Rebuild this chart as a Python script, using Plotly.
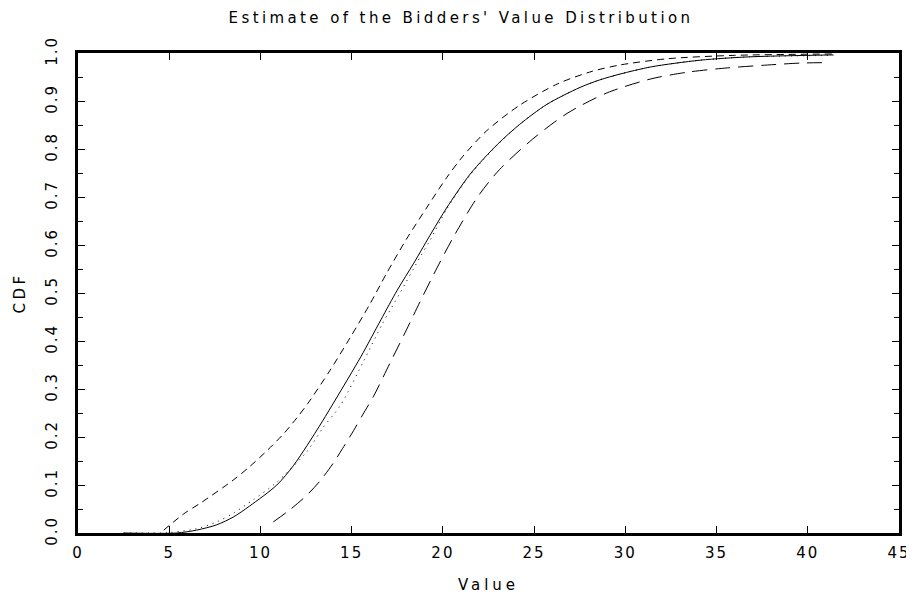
import plotly.graph_objects as go

# Estimated CDF (solid)
est_x = [2.5, 5.4, 6.5, 7.6, 8.5, 9.4, 10.9, 11.8, 12.55, 13.4, 14.1, 15.5, 16.6, 17.5, 18.4, 19.4,
         20.2, 21.5, 23.0, 24.2, 25.7, 27.5, 28.6, 29.7, 31.4, 34.1, 36.8, 41.4]
est_y = [0.0, 0.0, 0.006, 0.017, 0.033, 0.056, 0.1, 0.14, 0.182, 0.233, 0.277, 0.367, 0.444, 0.506, 0.562, 0.627,
         0.677, 0.748, 0.81, 0.851, 0.893, 0.928, 0.944, 0.956, 0.971, 0.985, 0.992, 0.996]

# Parametric / alternative fit (dotted)
fit_x = [2.5, 5.0, 6.5, 7.6, 8.5, 9.6, 10.9, 12.55, 13.4, 14.4, 15.6, 16.7, 17.65, 18.75, 19.3,
         20.2, 21.5, 23.0, 24.2, 25.7, 27.5, 28.6, 29.7, 31.4, 34.1, 36.8, 41.4]
fit_y = [0.0, 0.001, 0.009, 0.023, 0.041, 0.069, 0.106, 0.17, 0.218, 0.267, 0.354, 0.437, 0.5, 0.575, 0.61,
         0.674, 0.746, 0.809, 0.851, 0.893, 0.928, 0.944, 0.956, 0.971, 0.985, 0.992, 0.995]

# Upper band (short dashes)
up_x = [4.7, 5.8, 6.7, 8.5, 9.4, 10.4, 11.3, 12.0, 12.6, 13.8, 14.9, 16.0, 16.9, 18.0, 19.1, 20.2,
        21.1, 22.4, 24.2, 26.3, 28.2, 29.7, 32.3, 35.9, 41.4]
up_y = [0.006, 0.04, 0.062, 0.11, 0.138, 0.173, 0.208, 0.24, 0.27, 0.338, 0.406, 0.477, 0.54, 0.612, 0.677, 0.74,
        0.785, 0.838, 0.891, 0.936, 0.962, 0.975, 0.988, 0.995, 0.998]

# Lower band (long dashes)
lo_x = [10.7, 11.6, 12.55, 13.3, 14.0, 14.5, 15.1, 15.6, 16.2, 17.1, 18.0, 18.75, 19.7, 20.6, 21.9, 23.1,
        24.9, 26.8, 29.0, 31.4, 33.4, 35.6, 37.8, 39.6, 41.2]
lo_y = [0.023, 0.048, 0.079, 0.11, 0.146, 0.176, 0.213, 0.246, 0.285, 0.354, 0.423, 0.482, 0.554, 0.618, 0.7, 0.757,
        0.82, 0.874, 0.917, 0.946, 0.96, 0.969, 0.975, 0.979, 0.98]

x_ticks = [0, 5, 10, 15, 20, 25, 30, 35, 40, 45]
y_ticks = [0.0, 0.1, 0.2, 0.3, 0.4, 0.5, 0.6, 0.7, 0.8, 0.9, 1.0]

FONT = "DejaVu Sans"


def spaced(text, px=2):
    return '<span style="letter-spacing:%spx">%s</span>' % (px, text)


fig = go.Figure()
fig.add_trace(go.Scatter(x=up_x, y=up_y, mode="lines", line=dict(color="black", width=1, dash="7px,5px", shape="spline", smoothing=0.8)))
fig.add_trace(go.Scatter(x=lo_x, y=lo_y, mode="lines", line=dict(color="black", width=1, dash="15px,8px", shape="spline", smoothing=0.8)))
fig.add_trace(go.Scatter(x=fit_x, y=fit_y, mode="lines", line=dict(color="black", width=1, dash="1px,5px", shape="spline", smoothing=0.8)))
fig.add_trace(go.Scatter(x=est_x, y=est_y, mode="lines", line=dict(color="black", width=1, shape="spline", smoothing=0.8)))

# page body has an 8px margin, so the figure is sized/positioned to compensate
fig.update_layout(
    width=906, height=593,
    margin=dict(l=70, r=15, t=45, b=68),
    paper_bgcolor="white", plot_bgcolor="white",
    showlegend=False,
    font=dict(family=FONT, color="black", size=14),
    title=dict(text=spaced("Estimate of the Bidders' Value Distribution", 3.4), x=0.5, xanchor="center",
               y=0.984, yanchor="middle", font=dict(size=15, family=FONT)),
)
fig.update_xaxes(
    range=[0, 45], tickvals=x_ticks, ticktext=[spaced(v) for v in x_ticks],
    ticks="inside", ticklen=7, tickwidth=1, tickcolor="black",
    showline=True, linewidth=3, linecolor="black", mirror="ticks",
    showgrid=False, zeroline=False, ticklabelstandoff=4, automargin=False,
    tickfont=dict(size=15),
    title=dict(text=spaced("Value", 4), font=dict(size=15), standoff=19),
)
fig.update_yaxes(
    range=[0, 1], tickvals=y_ticks, ticktext=[spaced(f"{v:.1f}") for v in y_ticks],
    ticks="inside", ticklen=7, tickwidth=1, tickcolor="black",
    minor=dict(dtick=0.05, ticks="inside", ticklen=5, tickcolor="black", showgrid=False),
    showline=True, linewidth=3, linecolor="black", mirror="ticks",
    showgrid=False, zeroline=False, tickangle=-90, ticklabelstandoff=12, automargin=False,
    tickfont=dict(size=15),
    title=dict(text=spaced("CDF", 3.5), font=dict(size=15), standoff=14),
)

fig.write_html("out.html")
